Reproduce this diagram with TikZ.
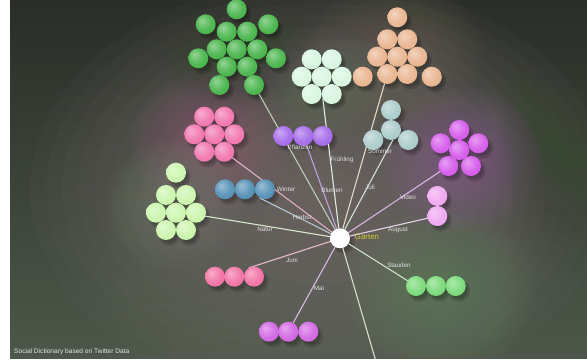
\documentclass[tikz,border=0pt]{standalone}
\usepackage{fontspec}
\setmainfont{Liberation Sans}
\pgfdeclarelayer{bglayer}
\pgfdeclarelayer{shadowlayer}
\pgfdeclarelayer{linelayer}
\pgfsetlayers{bglayer,shadowlayer,linelayer,main}

\definecolor{bgtop}{HTML}{2A2D28}
\definecolor{bgbot}{HTML}{4C5849}
\definecolor{glowcol}{HTML}{8A7C7C}
\definecolor{glpink}{HTML}{A86A8A}
\definecolor{glmag}{HTML}{A06AAE}
\definecolor{glgreen}{HTML}{70946E}
\definecolor{glpeach}{HTML}{8A8070}
\definecolor{gllg}{HTML}{8A9A82}
\definecolor{glmint}{HTML}{747C6E}
\definecolor{gldark}{HTML}{3A4634}
\definecolor{cgtop}{HTML}{3DB040}
\definecolor{cmint}{HTML}{D6F5DE}
\definecolor{cpeach}{HTML}{E8B089}
\definecolor{cpink}{HTML}{F06EAA}
\definecolor{cpurple}{HTML}{A062E8}
\definecolor{cblue}{HTML}{4A8AB2}
\definecolor{cteal}{HTML}{A6C8C8}
\definecolor{cmag}{HTML}{D352EA}
\definecolor{cviolet}{HTML}{F0A2F0}
\definecolor{clgreen}{HTML}{C8F5A8}
\definecolor{cpinkrow}{HTML}{F06AA0}
\definecolor{cmagrow}{HTML}{CF5EE2}
\definecolor{cgrow}{HTML}{72D872}
\definecolor{gartenyellow}{HTML}{CFCF38}
\definecolor{lgtop}{HTML}{B8CDB0}
\definecolor{lmint}{HTML}{E2ECE2}
\definecolor{lpeach}{HTML}{E6D8C8}
\definecolor{lpink}{HTML}{DDB0C8}
\definecolor{lpurple}{HTML}{BFA2E0}
\definecolor{lblue}{HTML}{B4C8D2}
\definecolor{lteal}{HTML}{D2DED8}
\definecolor{lmag}{HTML}{D8B4E2}
\definecolor{lviolet}{HTML}{E8D2E8}
\definecolor{llg}{HTML}{D8E8CC}
\definecolor{lpinkrow}{HTML}{E6BACC}
\definecolor{lmagrow}{HTML}{D8BAE0}
\definecolor{lgrow}{HTML}{CCE0CA}
\definecolor{ldown}{HTML}{D4E2CC}
\colorlet{bc}{white}

\pgfdeclareradialshading[bc]{sphere}{\pgfpoint{-10bp}{10bp}}{color(0bp)=(bc!55!white); color(20bp)=(bc!88!white); color(36bp)=(bc); color(50bp)=(bc!84!black)}

\tikzset{
  ballnode/.style={circle, minimum size=20pt, inner sep=0pt, shading=sphere},
  ln/.style={line width=1.1pt, line cap=round},
  lbl/.style={text=black!12, font=\fontsize{6.3}{7}\selectfont, inner sep=0pt},
}

\newcommand\ballat[4]{%
  \begin{pgfonlayer}{shadowlayer}
    \fill[black, opacity=0.15] (#2+3.5,#3+4.5) circle (11pt);
    \fill[black, opacity=0.15] (#2+3,#3+4) circle (9pt);
  \end{pgfonlayer}
  \colorlet{bc}{#4}%
  \node[ballnode] (#1) at (#2,#3) {};%
}
% soft glow: stacked ellipses
\newcommand\glowat[6]{%
  \foreach \k in {1,...,18}{%
    \fill[#5, opacity=#6] (#1,#2) ellipse [x radius={#3*\k/18*1pt}, y radius={#4*\k/18*1pt}];
  }%
}

\begin{document}
\begin{tikzpicture}[x=1pt, y=-1pt]
\useasboundingbox (0,0) rectangle (587,363);
\begin{pgfonlayer}{bglayer}
  \fill[white] (0,0) rectangle (587,363);
  \begin{scope}
    \clip (10,0) rectangle (587,359);
    \shade[top color=bgtop, bottom color=bgbot] (10,0) rectangle (587,359);
    \glowat{320}{190}{290}{210}{glowcol}{0.055}
    \glowat{210}{140}{80}{70}{glpink}{0.035}
    \glowat{460}{160}{80}{75}{glmag}{0.04}
    \glowat{440}{290}{95}{80}{glgreen}{0.04}
    \glowat{395}{55}{90}{75}{glpeach}{0.03}
    \glowat{175}{205}{70}{65}{gllg}{0.03}
    \glowat{320}{80}{60}{55}{glmint}{0.03}
    \glowat{236}{45}{80}{65}{gldark}{0.04}
    \glowat{560}{120}{60}{160}{gldark}{0.04}
  \end{scope}
\end{pgfonlayer}

% top green cluster
\ballat{g1}{236.7}{9.3}{cgtop}
\ballat{g2}{205.7}{24.3}{cgtop}
\ballat{g3}{268.3}{24.3}{cgtop}
\ballat{g4}{226.7}{31.7}{cgtop}
\ballat{g5}{247.3}{31.7}{cgtop}
\ballat{g6}{198.3}{58.3}{cgtop}
\ballat{g7}{216.7}{49.3}{cgtop}
\ballat{g8}{236.7}{49.3}{cgtop}
\ballat{g9}{257.3}{49.3}{cgtop}
\ballat{g10}{276}{58.3}{cgtop}
\ballat{g11}{226.7}{66.7}{cgtop}
\ballat{g12}{247.3}{66.7}{cgtop}
\ballat{g13}{219.3}{85}{cgtop}
\ballat{g14}{254}{85}{cgtop}
% mint
\ballat{m1}{311.7}{59.3}{cmint}
\ballat{m2}{331.7}{59.3}{cmint}
\ballat{m3}{301.7}{76.7}{cmint}
\ballat{m4}{321.7}{76.7}{cmint}
\ballat{m5}{341.7}{76.7}{cmint}
\ballat{m6}{311.7}{94}{cmint}
\ballat{m7}{331.7}{94}{cmint}
% peach
\ballat{pe1}{397.3}{17.3}{cpeach}
\ballat{pe2}{387.3}{39.3}{cpeach}
\ballat{pe3}{407.3}{39.3}{cpeach}
\ballat{pe4}{377.3}{56.7}{cpeach}
\ballat{pe5}{397.3}{56.7}{cpeach}
\ballat{pe6}{417.3}{56.7}{cpeach}
\ballat{pe7}{362.7}{76.7}{cpeach}
\ballat{pe8}{387.3}{74}{cpeach}
\ballat{pe9}{407.3}{74}{cpeach}
\ballat{pe10}{431.7}{76.7}{cpeach}
% pink hex
\ballat{pk1}{204.3}{116.7}{cpink}
\ballat{pk2}{224.3}{116.7}{cpink}
\ballat{pk3}{194.3}{134.3}{cpink}
\ballat{pk4}{214.3}{134.3}{cpink}
\ballat{pk5}{234.3}{134.3}{cpink}
\ballat{pk6}{204.3}{151.7}{cpink}
\ballat{pk7}{224.3}{151.7}{cpink}
% purple row
\ballat{pu1}{283.3}{136}{cpurple}
\ballat{pu2}{303.3}{136}{cpurple}
\ballat{pu3}{322.7}{136}{cpurple}
% blue row
\ballat{b1}{225}{189.3}{cblue}
\ballat{b2}{245}{189.3}{cblue}
\ballat{b3}{265}{189.3}{cblue}
% teal
\ballat{t1}{391}{110}{cteal}
\ballat{t2}{391}{130}{cteal}
\ballat{t3}{373.3}{140}{cteal}
\ballat{t4}{408.3}{140}{cteal}
% magenta
\ballat{mg1}{459.3}{130}{cmag}
\ballat{mg2}{440.7}{143.3}{cmag}
\ballat{mg3}{459.3}{150}{cmag}
\ballat{mg4}{478.3}{143.3}{cmag}
\ballat{mg5}{448.3}{166}{cmag}
\ballat{mg6}{471}{166}{cmag}
% violet
\ballat{v1}{437.3}{196}{cviolet}
\ballat{v2}{437.3}{216}{cviolet}
% light green
\ballat{lg1}{176}{172.7}{clgreen}
\ballat{lg2}{166}{195}{clgreen}
\ballat{lg3}{186}{195}{clgreen}
\ballat{lg4}{156}{212.7}{clgreen}
\ballat{lg5}{176}{212.7}{clgreen}
\ballat{lg6}{196}{212.7}{clgreen}
\ballat{lg7}{166}{230}{clgreen}
\ballat{lg8}{186}{230}{clgreen}
% pink row
\ballat{pr1}{215}{276.7}{cpinkrow}
\ballat{pr2}{234.3}{276.7}{cpinkrow}
\ballat{pr3}{254}{276.7}{cpinkrow}
% magenta row
\ballat{mr1}{269}{331.7}{cmagrow}
\ballat{mr2}{288.3}{331.7}{cmagrow}
\ballat{mr3}{308.3}{331.7}{cmagrow}
% green row
\ballat{sr1}{416}{286}{cgrow}
\ballat{sr2}{436}{286}{cgrow}
\ballat{sr3}{455.7}{286}{cgrow}
% center
\ballat{garten}{340}{238.3}{white}
\coordinate (downEnd) at (379,372);

\begin{pgfonlayer}{linelayer}
  \begin{scope}
  \clip (10,0) rectangle (587,359);
  \draw[ln, lgtop] (garten) -- (g14);
  \draw[ln, lmint] (garten) -- (m7.-150);
  \draw[ln, lpeach] (garten) -- (pe8);
  \draw[ln, lpink] (garten) -- (pk7);
  \draw[ln, lpurple] (garten) -- (pu2);
  \draw[ln, lblue] (garten) -- (b3.-120);
  \draw[ln, lteal] (garten) -- (t2.-80);
  \draw[ln, lmag] (garten) -- (mg5);
  \draw[ln, lviolet] (garten) -- (v2);
  \draw[ln, llg] (garten) -- (lg6.-20);
  \draw[ln, lpinkrow] (garten) -- (pr3.120);
  \draw[ln, lmagrow] (garten) -- (mr2);
  \draw[ln, lgrow] (garten) -- (sr1);
  \draw[ln, ldown] (garten) -- (downEnd);
  \end{scope}
\end{pgfonlayer}

\node[lbl] (lPflanzen) at (300,147) {Pflanzen};
\node[lbl] (lFruehling) at (342,160) {Frühling};
\node[lbl] (lSommer) at (380,151) {Sommer};
\node[lbl] (lJuli) at (370,187) {Juli};
\node[lbl] (lVideo) at (408,197) {Video};
\node[lbl] (lAugust) at (398,230) {August};
\node[lbl] (lStauden) at (399,265) {Stauden};
\node[lbl] (lMai) at (319,288) {Mai};
\node[lbl] (lJuni) at (292,260) {Juni};
\node[lbl] (lNatur) at (265,229) {Natur};
\node[lbl] (lHerbst) at (302,217) {Herbst};
\node[lbl] (lWinter) at (286,189) {Winter};
\node[lbl] (lBlumen) at (332,190) {Blumen};
\node[text=gartenyellow, font=\fontsize{7.9}{9}\selectfont, inner sep=0pt] (lGarten) at (367,237) {Garten};
\node[text=black!10, font=\fontsize{6.6}{8}\selectfont, inner sep=0pt, anchor=west] (lTitle) at (14,352) {Social Dictionary based on Twitter Data};
\end{tikzpicture}
\end{document}
